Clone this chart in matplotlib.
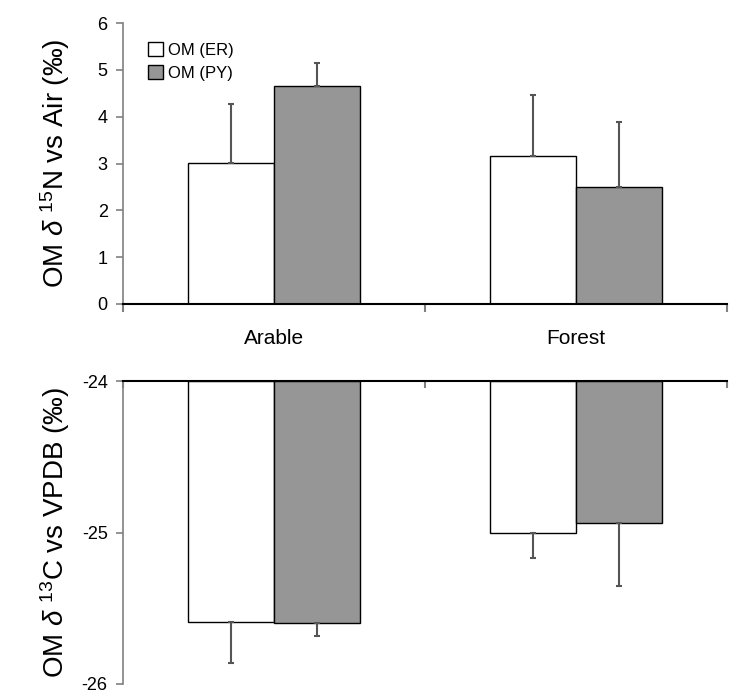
import matplotlib
matplotlib.use("Agg")
import matplotlib.pyplot as plt
import numpy as np
from matplotlib.patches import Patch

plt.rcParams['font.family'] = ['Liberation Sans', 'DejaVu Sans']
plt.rcParams['mathtext.fontset'] = 'custom'
plt.rcParams['mathtext.rm'] = 'Liberation Sans'
plt.rcParams['mathtext.it'] = 'Liberation Sans:italic'

categories = ["Arable", "Forest"]
series = ["OM (ER)", "OM (PY)"]
n15_er = [3.02, 3.16]
n15_er_err = [1.25, 1.31]
n15_py = [4.66, 2.49]
n15_py_err = [0.48, 1.39]
c13_er = [-25.59, -25.00]
c13_er_err = [0.27, 0.17]
c13_py = [-25.60, -24.94]
c13_py_err = [0.08, 0.41]
n15_ticks = [0, 1, 2, 3, 4, 5, 6]
c13_ticks = [-26, -25, -24]

colors = ["white", "#969696"]
gray = "#808080"
errc = "#555555"

fig = plt.figure(figsize=(7.42, 7.00), dpi=100)
ax1 = fig.add_axes([123/742, 1-304/700, 604/742, 281/700])
ax2 = fig.add_axes([123/742, 1-684/700, 604/742, 303/700])

x = np.arange(len(categories))
w = 0.285
off = [-w/2, w/2]
zeros = [0, 0]

# top panel
for i, (vals, errs) in enumerate([(n15_er, n15_er_err), (n15_py, n15_py_err)]):
    ax1.bar(x + off[i], vals, width=w, color=colors[i], edgecolor="black", linewidth=1.0,
            yerr=[zeros, errs], error_kw=dict(ecolor=errc, elinewidth=1.5, capsize=2.5, capthick=1.5),
            zorder=2)
ax1.set_xlim(-0.5, 1.5)
ax1.set_ylim(0, 6)
ax1.set_yticks(n15_ticks)
ax1.set_xticks([-0.5, 0.5, 1.5])
ax1.set_xticklabels([])
ax1.set_xticks(x, minor=True)
ax1.set_xticklabels(categories, minor=True, fontsize=15)
ax1.tick_params(axis='x', which='minor', length=0, pad=18)
ax1.tick_params(axis='x', which='major', length=6, color=gray, width=1.5, direction='out')
ax1.tick_params(axis='y', length=5, color=gray, width=1.2, labelsize=13, pad=6)
ax1.spines['top'].set_visible(False)
ax1.spines['right'].set_visible(False)
ax1.spines['left'].set_color(gray)
ax1.spines['left'].set_linewidth(1.2)
ax1.spines['bottom'].set_linewidth(1.5)
ax1.set_ylabel(r'OM $\delta$ $^{15}$N vs Air (‰)', fontsize=20)
ax1.yaxis.set_label_coords(-0.085, 0.5)
handles = [Patch(facecolor=colors[i], edgecolor="black", linewidth=1.0) for i in range(2)]
ax1.legend(handles, series, loc='upper left', bbox_to_anchor=(0.03, 0.955), frameon=False,
           fontsize=12, handlelength=0.9, handleheight=0.9, handletextpad=0.3,
           labelspacing=0.45, borderaxespad=0)

# bottom panel
base = -24
for i, (vals, errs) in enumerate([(c13_er, c13_er_err), (c13_py, c13_py_err)]):
    heights = [v - base for v in vals]
    ax2.bar(x + off[i], heights, bottom=base, width=w, color=colors[i], edgecolor="black",
            linewidth=1.0, zorder=2)
    ax2.errorbar(x + off[i], vals, yerr=[errs, zeros], fmt='none', ecolor=errc,
                 elinewidth=1.5, capsize=2.5, capthick=1.5, zorder=3)
ax2.set_xlim(-0.5, 1.5)
ax2.set_ylim(-26, -24)
ax2.set_yticks(c13_ticks)
ax2.set_yticklabels([str(t) for t in c13_ticks])
ax2.xaxis.tick_top()
ax2.set_xticks([-0.5, 0.5, 1.5])
ax2.set_xticklabels([])
ax2.tick_params(axis='x', length=5, color=gray, width=1.5, direction='in')
ax2.tick_params(axis='y', length=5, color=gray, width=1.2, labelsize=13, pad=6)
ax2.spines['bottom'].set_visible(False)
ax2.spines['right'].set_visible(False)
ax2.spines['left'].set_color(gray)
ax2.spines['left'].set_linewidth(1.2)
ax2.spines['top'].set_linewidth(1.5)
ax2.set_ylabel(r'OM $\delta$ $^{13}$C vs VPDB (‰)', fontsize=20)
ax2.yaxis.set_label_coords(-0.085, 0.5)

fig.savefig("out.png", dpi=100)
